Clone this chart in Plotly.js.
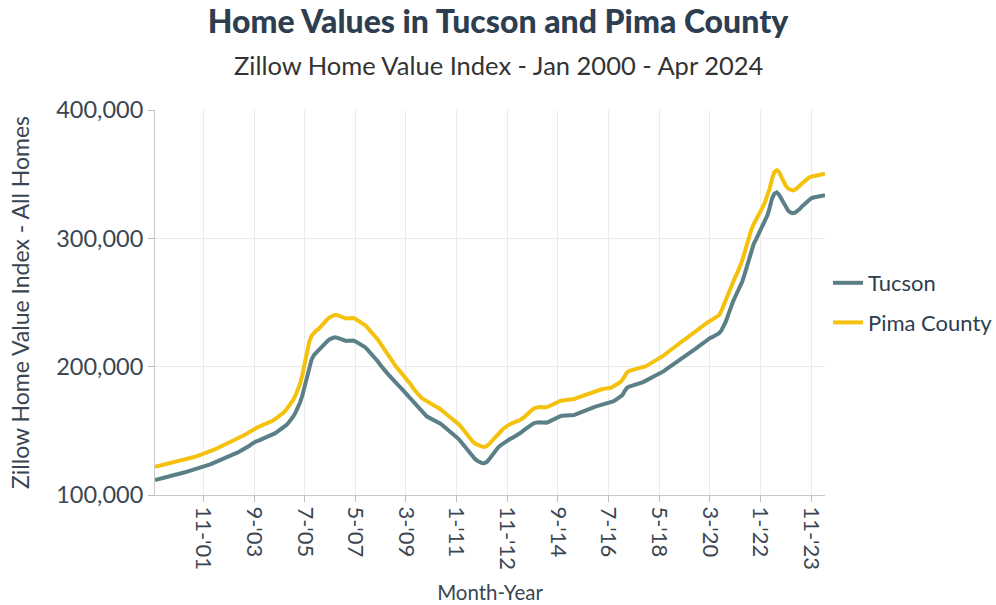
<!DOCTYPE html>
<html>
<head>
<meta charset="utf-8">
<script src="https://cdn.plot.ly/plotly-3.0.1.min.js"></script>
<style>html,body{margin:0;padding:0;background:#fff;}#chart{width:996px;height:605px;}</style>
</head>
<body>
<div id="chart"></div>
<script>
// Month categories, Jan 2000 .. Apr 2024 (292 months)
const startYear = 2000;
const monthCount = 292;
const months = [];
for (let i = 0; i < monthCount; i++) {
  const y = startYear + Math.floor(i / 12), m = (i % 12) + 1;
  months.push(m + "-'" + String(y % 100).padStart(2, '0'));
}

// Tick labels shown on the x axis and their category positions
const tickLabels = ["11-'01","9-'03","7-'05","5-'07","3-'09","1-'11","11-'12","9-'14","7-'16","5-'18","3-'20","1-'22","11-'23"];
const tickPositions = [21,43,65,87,109,131,153,175,197,219,241,263,285];

// Zillow Home Value Index, thousands of dollars
const tucson = [
111.7,112.1,112.5,112.9,113.4,113.8,114.3,114.8,115.3,115.7,116.2,116.7,117.2,117.7,118.2,118.7,119.2,119.7,120.3,120.8,121.4,122.0,
122.6,123.2,123.9,124.6,125.3,126.0,126.8,127.6,128.4,129.2,130.0,130.8,131.6,132.4,133.2,134.1,135.0,135.9,136.9,138.4,139.8,141.0,
141.8,142.4,143.1,143.9,144.6,145.2,145.8,146.8,148.0,149.2,150.4,151.6,152.6,154.4,156.3,158.5,161.0,164.2,167.8,172.0,177.5,184.5,
193.0,200.0,205.5,209.0,211.0,212.5,214.8,217.0,218.7,220.2,221.5,222.5,222.9,222.6,221.8,220.9,220.3,220.0,220.2,220.5,220.4,219.8,
218.8,217.8,216.6,215.4,213.9,212.0,210.0,208.2,206.0,203.6,201.0,198.5,196.5,194.6,192.6,190.4,188.4,186.6,184.9,183.0,181.0,179.2,
177.4,175.4,173.3,171.2,169.0,166.6,164.3,162.5,161.3,160.3,159.4,158.7,158.0,156.9,155.6,154.2,152.8,151.5,150.0,148.5,146.6,145.0,
143.4,141.3,138.9,136.6,134.2,131.8,129.8,128.1,126.7,125.6,124.9,124.7,125.6,127.5,130.0,132.5,134.8,136.9,138.6,140.0,141.2,142.4,
143.4,144.3,145.2,146.2,147.3,148.7,150.2,151.7,153.1,154.4,155.4,156.2,156.6,156.7,156.5,156.3,156.4,157.0,158.0,159.0,160.0,160.8,
161.4,161.7,161.8,161.7,161.6,161.8,162.3,163.0,163.8,164.6,165.5,166.3,167.0,167.6,168.2,168.7,169.2,169.7,170.2,170.6,171.0,171.4,
172.0,172.9,174.0,175.2,175.8,177.8,181.0,183.5,184.5,185.0,185.4,186.0,186.6,187.2,188.0,188.9,189.8,190.7,191.5,192.2,193.0,194.0,
195.2,196.5,197.8,199.0,200.3,201.8,203.0,204.2,205.4,206.6,207.8,209.0,210.2,211.4,212.8,214.2,215.6,217.0,218.3,219.6,221.0,222.2,
223.0,223.8,224.8,226.0,228.2,231.5,235.5,240.5,246.0,250.5,254.5,258.0,261.5,266.0,271.5,278.0,285.0,291.0,295.5,299.0,302.5,306.0,
309.5,313.0,318.0,324.0,331.0,334.8,335.8,334.2,330.8,327.0,323.8,321.5,320.1,319.6,320.0,321.2,322.8,324.8,326.6,328.5,330.2,331.2,
331.8,332.2,332.5,332.8,333.2,333.6
];
const pima = [
122.0,122.4,122.8,123.2,123.6,124.0,124.5,124.9,125.3,125.8,126.2,126.7,127.1,127.6,128.1,128.6,129.1,129.6,130.1,130.7,131.3,131.9,
132.6,133.3,134.0,134.8,135.6,136.4,137.2,138.0,138.9,139.7,140.6,141.4,142.3,143.2,144.1,145.0,146.0,147.0,148.1,149.3,150.5,151.6,
152.5,153.2,153.9,154.6,155.3,156.0,156.6,157.8,159.0,160.3,161.6,163.0,164.5,166.5,168.7,171.2,174.0,177.5,181.8,186.5,193.5,202.5,
212.5,219.5,224.0,226.8,228.2,229.3,231.5,233.8,235.6,237.2,238.6,239.7,240.3,240.2,239.4,238.4,237.8,237.5,237.7,238.0,237.9,237.3,
236.3,235.2,233.9,232.6,231.0,229.0,227.0,225.4,223.3,220.6,217.8,215.0,212.5,210.0,207.2,204.2,201.6,199.3,197.3,195.2,193.0,191.2,
189.0,186.4,183.5,181.0,179.0,177.0,175.3,174.2,173.2,172.2,171.2,170.5,169.6,168.4,166.9,165.3,163.6,162.2,160.8,159.4,158.0,156.8,
155.2,153.0,150.6,148.2,145.8,143.5,141.6,140.1,139.0,138.2,137.7,137.5,138.0,139.5,141.5,143.7,145.8,147.8,149.6,151.2,152.6,154.0,
155.0,155.8,156.4,156.9,157.6,158.8,160.3,162.0,163.7,165.3,166.7,167.7,168.3,168.5,168.3,168.2,168.4,169.0,170.0,171.0,171.9,172.7,
173.3,173.6,173.8,173.9,174.0,174.3,174.8,175.5,176.2,176.9,177.6,178.3,179.0,179.7,180.3,180.9,181.6,182.1,182.4,182.7,182.9,183.1,
183.6,184.5,185.5,186.6,187.8,189.6,192.5,195.5,196.8,197.2,197.6,198.0,198.4,198.7,199.3,200.2,201.2,202.2,203.1,204.0,205.0,206.0,
207.3,208.8,210.3,211.8,213.3,214.6,215.9,217.2,218.5,219.8,221.1,222.5,223.9,225.3,226.8,228.3,229.6,230.8,232.0,233.2,234.5,235.5,
236.5,237.6,238.8,240.2,243.5,248.0,253.0,257.8,262.0,266.0,269.8,273.5,277.5,282.5,288.5,295.0,301.5,306.8,311.0,314.0,317.0,320.5,
324.5,328.5,333.0,339.0,346.5,351.5,353.0,351.8,348.0,344.0,340.8,338.8,337.7,337.3,337.8,339.0,341.0,342.8,344.5,346.0,347.2,348.0,
348.5,348.8,349.0,349.4,349.8,350.4
];

const toDollars = v => v.map(x => x * 1000);

const titleColor = '#2c3e50';
const textColor = '#3a4652';
const FONT = 'Lato, "Open Sans", sans-serif';

const traces = [
  {x: months, y: toDollars(tucson), name: 'Tucson', type: 'scatter', mode: 'lines', legendgroup: 'a',
   line: {color: '#5b7f87', width: 4}},
  {x: months, y: toDollars(pima), name: 'Pima County', type: 'scatter', mode: 'lines', legendgroup: 'b',
   line: {color: '#f4c20d', width: 4}}
];

const layout = {
  width: 996, height: 605,
  paper_bgcolor: '#fff', plot_bgcolor: '#fff',
  margin: {l: 155, r: 171, t: 110, b: 110},
  font: {family: FONT, color: textColor},
  title: {text: 'Home Values in Tucson and Pima County', font: {family: FONT, size: 32, weight: 900, color: titleColor},
          xref: 'container', x: 0.5, xanchor: 'center', yref: 'container', y: 1 - 22/605, yanchor: 'middle'},
  annotations: [{text: 'Zillow Home Value Index - Jan 2000 - Apr 2024', xref: 'paper', yref: 'paper',
    x: 0.5 + (499 - 490) / 670, y: (495 - 65) / 385, xanchor: 'center', yanchor: 'middle', showarrow: false,
    font: {family: FONT, size: 25.5, color: '#333'}}],
  xaxis: {
    type: 'category', range: [0, monthCount - 1],
    tickmode: 'array', tickvals: tickPositions, ticktext: tickLabels, tickangle: 90,
    tickfont: {family: FONT, size: 22, color: textColor},
    ticks: 'outside', ticklen: 6, tickcolor: '#bdbdbd',
    showgrid: true, gridcolor: '#ebebeb', gridwidth: 1,
    showline: true, linecolor: '#c8c8c8', linewidth: 1,
    zeroline: false,
    title: {text: 'Month-Year', font: {family: FONT, size: 20.5, color: textColor}, standoff: 16}
  },
  yaxis: {
    range: [100000, 400000], tickmode: 'array', tickvals: [100000, 200000, 300000, 400000],
    tickformat: ',', tickfont: {family: FONT, size: 23.5, color: textColor},
    ticks: 'outside', ticklen: 6, tickcolor: '#bdbdbd',
    showgrid: true, gridcolor: '#ebebeb', gridwidth: 1,
    showline: true, linecolor: '#c8c8c8', linewidth: 1,
    zeroline: false,
    title: {text: 'Zillow Home Value Index - All Homes', font: {family: FONT, size: 23, color: textColor}, standoff: 20}
  },
  legend: {xref: 'container', x: 828 / 996, xanchor: 'left', yref: 'paper', y: (495 - 303) / 385, yanchor: 'middle',
           font: {family: FONT, size: 22, color: titleColor},
           bgcolor: 'rgba(0,0,0,0)', traceorder: 'grouped', tracegroupgap: 8},
  showlegend: true
};

Plotly.newPlot('chart', traces, layout, {displayModeBar: false, staticPlot: true});
</script>
</body>
</html>
